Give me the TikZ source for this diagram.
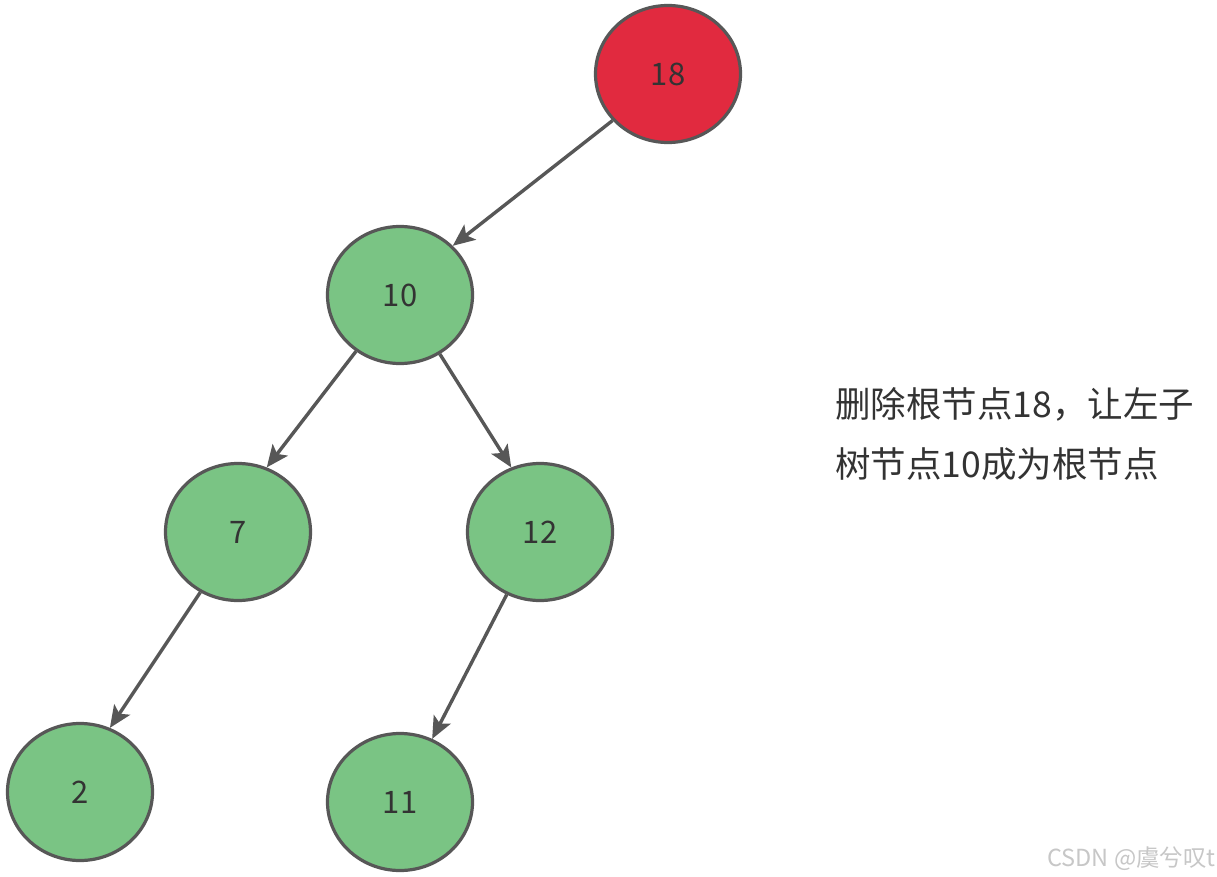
\documentclass[tikz,border=0pt]{standalone}
\usepackage{fontspec}
\setmainfont{Noto Sans CJK SC}
\usepackage{tikz}
\usetikzlibrary{arrows.meta,shapes.geometric}

\definecolor{rootred}{HTML}{E12A3F}
\definecolor{treegreen}{HTML}{7AC484}
\definecolor{linegray}{HTML}{575757}
\definecolor{textgray}{HTML}{333333}

\begin{document}
\begin{tikzpicture}[x=1pt,y=-1pt,>={Stealth[length=22pt,width=19pt,inset=5pt]},
    treenode/.style={ellipse,draw=linegray,line width=3.2pt,fill=treegreen,
      minimum width=145pt,minimum height=137pt,inner sep=0pt,
      text=textgray,font=\fontsize{31}{36}\selectfont},
    rootnode/.style={treenode,fill=rootred},
    every edge/.style={draw=linegray,line width=3.4pt}]
      \useasboundingbox[fill=white] (0,0) rectangle (1217,877);

      \node[rootnode] (n18) at (668,74) {18};
      \node[treenode] (n10) at (400,295) {10};
      \node[treenode] (n7) at (238,532) {7};
      \node[treenode] (n12) at (540,532) {12};
      \node[treenode] (n2) at (80,792) {2};
      \node[treenode] (n11) at (400,802) {11};

      \path[->]
      (n18.220) edge (n10.43)

      (n10.232) edge (n7.66)
      (n10.304) edge (n12.114)

      (n7.238) edge (n2.65)
      (n12.242) edge (n11.63)
      ;

      \node[anchor=north west,align=left,inner sep=0pt,text=textgray,
        font=\fontsize{35.5}{60}\selectfont] (note) at (835,387)
        {删除根节点18，让左子\\树节点10成为根节点};

      \node[anchor=base east,inner sep=0pt,text=black!22,
        font=\fontsize{23.5}{26}\selectfont] (mark) at (1216,866) {CSDN @虞兮叹t};
    \end{tikzpicture}
\end{document}
